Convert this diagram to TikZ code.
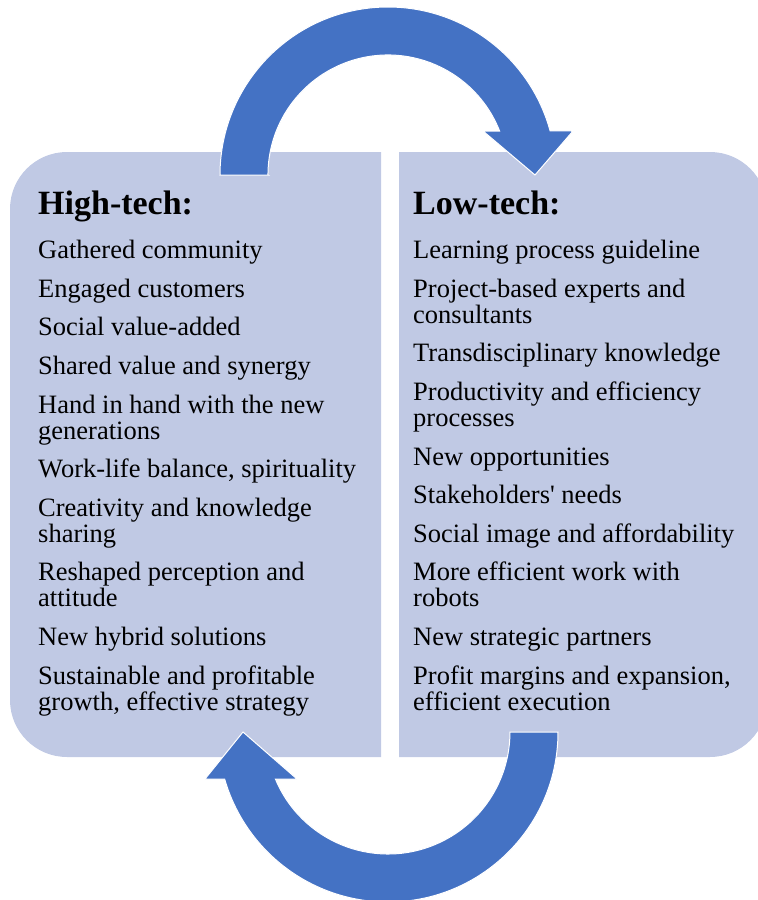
\documentclass[tikz,border=0pt]{standalone}
\usepackage{fontspec}
\setmainfont{Liberation Serif}
\usetikzlibrary{positioning}
\definecolor{panelfill}{RGB}{192,201,228}
\definecolor{loopblue}{RGB}{68,114,196}
\tikzset{
    panel/.style={fill=panelfill},
    loop arrow/.style={fill=loopblue,draw=white,line width=1pt},
    head text/.style={anchor=base west,inner sep=0,font=\fontsize{34}{38}\selectfont\bfseries},
    item text/.style={anchor=base west,inner sep=0,align=left,font=\fontsize{26.5}{26}\selectfont}
}
\newcommand{\gap}{\\[12.6pt]}

\begin{document}
\begin{tikzpicture}[x=1pt,y=1pt]
    \useasboundingbox (0,0) rectangle (758,-900);
    \clip (0,0) rectangle (758,-900);
    % panels
    \fill[panel] (381,-152) -- (67,-152) arc[start angle=90,end angle=180,radius=57]
        -- (10,-700) arc[start angle=180,end angle=270,radius=57] -- (381,-757) -- cycle;
    \fill[panel] (399,-152) -- (710,-152) arc[start angle=90,end angle=0,radius=57]
        -- (767,-700) arc[start angle=0,end angle=-90,radius=57] -- (399,-757) -- cycle;
    % cycle arrows
    \filldraw[loop arrow] (268,-175) -- (220,-175) arc[start angle=180,end angle=15.2,radius=168]
        -- (573,-131) -- (535,-175) -- (483,-131) -- (499.6,-131)
        arc[start angle=21.5,end angle=180,radius=120] -- cycle;
    \filldraw[loop arrow] (510,-732) -- (558,-732) arc[start angle=0,end angle=-163.95,radius=170]
        -- (205,-779) -- (243,-732) -- (297,-779) -- (275.4,-779)
        arc[start angle=-157.34,end angle=0,radius=122] -- cycle;
    % texts (lists are placed by their last baseline)
    \node (high head) [head text] at (38,-214) {High-tech:};
    \node (high list) [item text] at (38,-710) {Gathered community\gap
        Engaged customers\gap
        Social value-added\gap
        Shared value and synergy\gap
        Hand in hand with the new\\ generations\gap
        Work-life balance, spirituality\gap
        Creativity and knowledge\\ sharing\gap
        Reshaped perception and\\ attitude\gap
        New hybrid solutions\gap
        Sustainable and profitable\\ growth, effective strategy};
    \node (low head) [head text] at (413,-214) {Low-tech:};
    \node (low list) [item text] at (413,-710) {Learning process guideline\gap
        Project-based experts and\\ consultants\gap
        Transdisciplinary knowledge\gap
        Productivity and efficiency\\ processes\gap
        New opportunities\gap
        Stakeholders\textquotesingle{} needs\gap
        Social image and affordability\gap
        More efficient work with\\ robots\gap
        New strategic partners\gap
        Profit margins and expansion,\\ efficient execution};
\end{tikzpicture}
\end{document}
